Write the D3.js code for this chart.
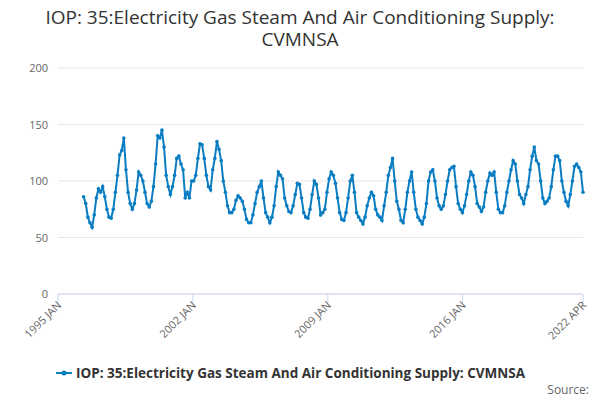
<!DOCTYPE html>
<html><head><meta charset="utf-8">
<script src="https://cdn.jsdelivr.net/npm/d3@7"></script>
<style>
body{margin:0;background:#fff;font-family:"Open Sans","DejaVu Sans",sans-serif;}
.grid line{stroke:#e6e6e6;}
</style></head><body>
<svg id="c" width="600" height="400"></svg>
<script>
const title = ["IOP: 35:Electricity Gas Steam And Air Conditioning Supply:", "CVMNSA"];
const seriesName = "IOP: 35:Electricity Gas Steam And Air Conditioning Supply: CVMNSA";
const startDate = new Date(1996, 4, 1), endDate = new Date(2022, 3, 1);
const yTicks = [0, 50, 100, 150, 200];
const xTickDates = [new Date(1995,0,1), new Date(2002,0,1), new Date(2009,0,1), new Date(2016,0,1), new Date(2022,3,1)];
const xTickLabels = ["1995 JAN", "2002 JAN", "2009 JAN", "2016 JAN", "2022 APR"];
const values = [86,80,68,63,59,70,85,93,90,95,86,75,68,67,75,90,105,123,127,138,110,90,80,75,80,92,108,105,100,90,80,77,82,95,115,140,138,145,130,105,95,88,95,105,120,122,115,110,85,90,85,100,100,105,120,133,132,120,105,95,92,110,120,135,128,118,100,90,78,72,72,75,83,87,85,82,75,66,63,63,70,80,90,95,100,85,72,68,63,68,78,95,108,105,102,85,78,73,72,78,88,98,97,85,72,68,67,75,88,100,97,85,70,72,75,90,102,108,105,98,85,72,66,65,72,85,100,105,90,72,68,65,62,68,78,85,90,87,75,70,68,65,78,90,105,112,120,100,82,75,65,63,75,90,100,108,90,75,68,65,62,68,80,100,108,110,100,85,78,75,78,88,100,110,112,113,95,80,75,72,78,88,100,108,105,95,80,77,73,77,90,100,107,105,108,90,75,72,72,78,90,100,110,118,115,100,88,85,80,88,95,110,122,130,118,115,100,85,80,82,85,95,110,122,122,118,100,90,82,78,88,100,113,115,112,108,90];

const svg = d3.select("#c");
const m = {l:58, r:583, t:68, b:294};
const x = d3.scaleTime().domain([xTickDates[0], endDate]).range([m.l, m.r]);
const y = d3.scaleLinear().domain([0, 200]).range([m.b, m.t]);
const idx = d3.scaleLinear().domain([0, values.length-1]).range([+startDate, +endDate]);
const data = values.map((v,i) => ({d:new Date(idx(i)), v}));

svg.append("g").attr("class","grid").selectAll("line").data(yTicks).join("line")
  .attr("x1",m.l).attr("x2",m.r).attr("y1",d=>y(d)).attr("y2",d=>y(d));

svg.append("g").selectAll("text").data(yTicks).join("text")
  .attr("x",m.l-10).attr("y",d=>y(d)+4).attr("text-anchor","end")
  .attr("fill","#666").attr("font-size",11).text(d=>d);

svg.append("line").attr("x1",m.l).attr("x2",m.r).attr("y1",m.b).attr("y2",m.b).attr("stroke","#ccd6eb");
const xt = svg.append("g").selectAll("g").data(xTickDates).join("g");
xt.append("line").attr("x1",d=>x(d)).attr("x2",d=>x(d)).attr("y1",m.b).attr("y2",m.b+10).attr("stroke","#ccd6eb");
xt.append("text").attr("transform",d=>`translate(${x(d)+4},${m.b+12}) rotate(-45)`)
  .attr("text-anchor","end").attr("fill","#666").attr("font-size",11).text((d,i)=>xTickLabels[i]);

svg.append("path").datum(data).attr("fill","none").attr("stroke","#0a7dc2").attr("stroke-width",2)
  .attr("d", d3.line().x(d=>x(d.d)).y(d=>y(d.v)));
svg.append("g").selectAll("circle").data(data).join("circle")
  .attr("cx",d=>x(d.d)).attr("cy",d=>y(d.v)).attr("r",1.8).attr("fill","#0a7dc2");

svg.append("g").selectAll("text").data(title).join("text")
  .attr("x",300).attr("y",(d,i)=>24+i*22).attr("text-anchor","middle")
  .attr("font-size",19).attr("fill","#333").text(d=>d);

const lg = svg.append("g").attr("transform","translate(56,373)");
lg.append("line").attr("x1",0).attr("x2",16).attr("stroke","#0a7dc2").attr("stroke-width",2);
lg.append("circle").attr("cx",8).attr("r",2.5).attr("fill","#0a7dc2");
lg.append("text").attr("x",20).attr("y",4.5).attr("font-size",13.5).attr("font-weight","bold").attr("fill","#333").text(seriesName);
svg.append("text").attr("x",589).attr("y",394).attr("text-anchor","end").attr("font-size",12).attr("fill","#666").text("Source:");
</script></body></html>
